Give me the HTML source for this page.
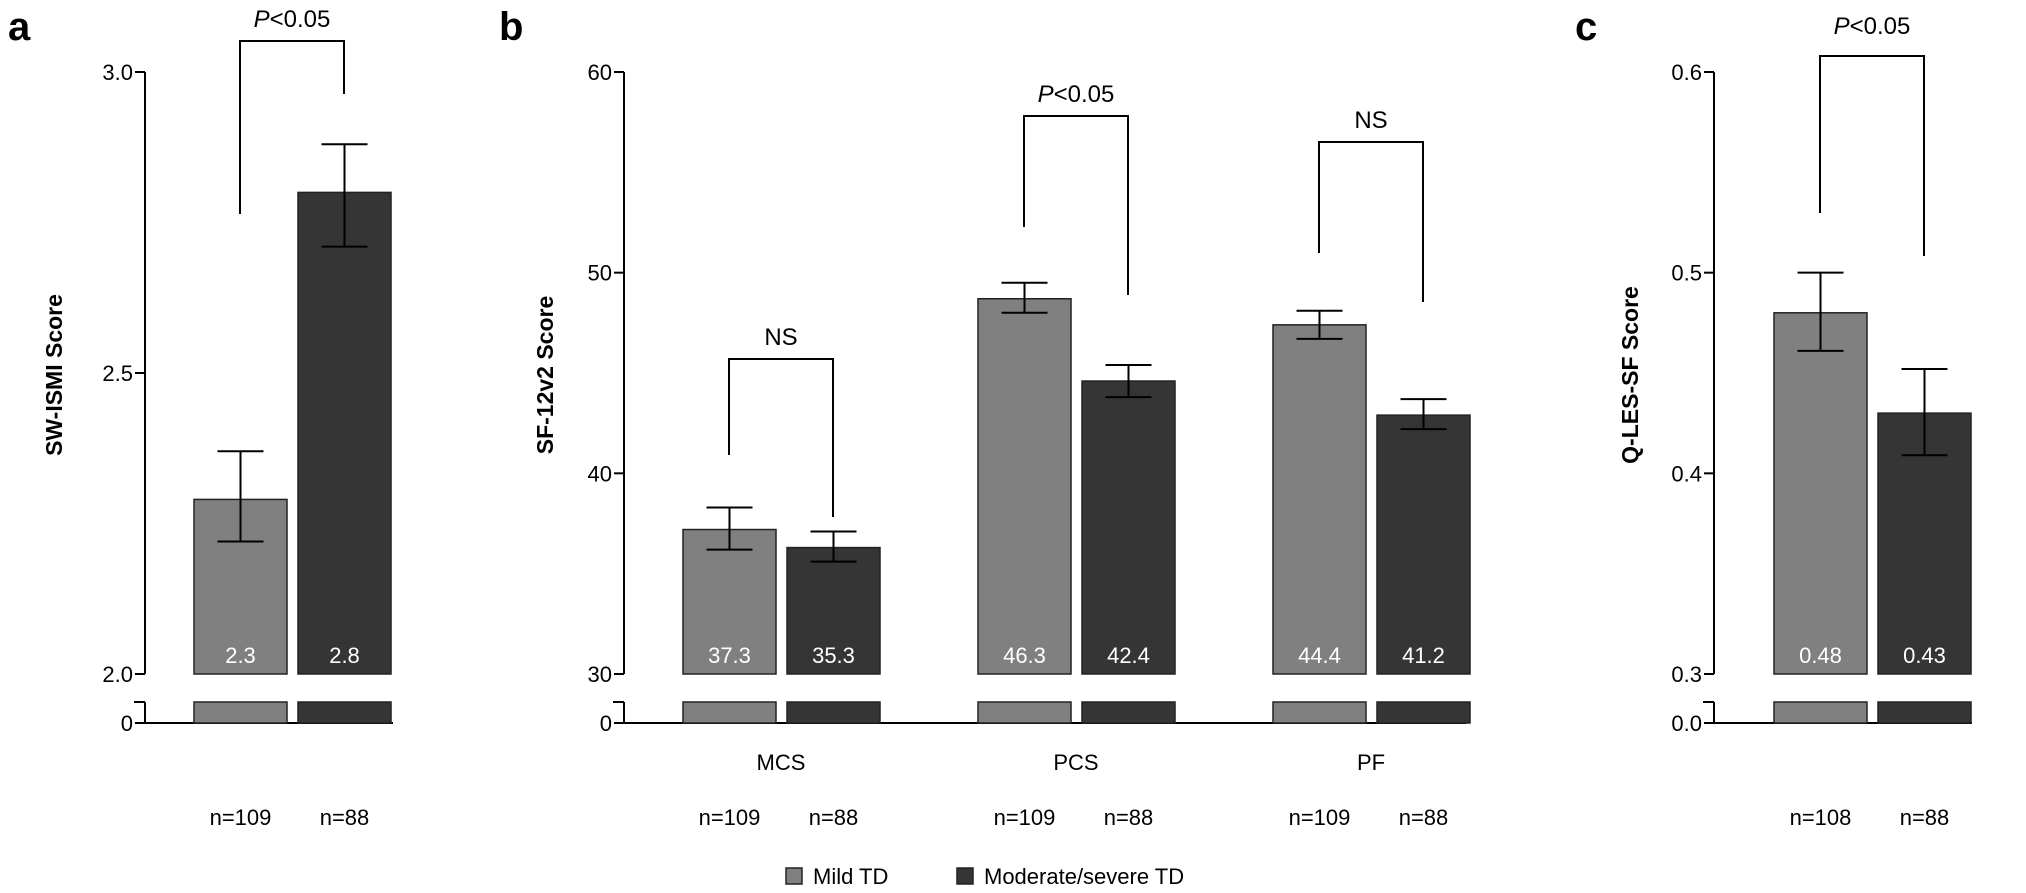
<!DOCTYPE html>
<html><head><meta charset="utf-8"><style>
body{margin:0;background:#fff;}
svg{display:block;font-family:"Liberation Sans",Arial,sans-serif;}
</style></head><body>
<svg id="c" width="2026" height="893" viewBox="0 0 2026 893" xmlns="http://www.w3.org/2000/svg"></svg>
<script>
// ---- data ----
const groups = ["Mild TD", "Moderate/severe TD"];
const colors = ["#808080", "#353535"];
// panel a
const aCats = [""];
const aMeans = [[2.29, 2.80]];
const aErrLo = [[2.22, 2.71]];
const aErrHi = [[2.37, 2.88]];
const aLabels = [["2.3", "2.8"]];
const aN = [["n=109", "n=88"]];
const aTicks = [2.0, 2.5, 3.0];
const aTickLabels = ["2.0", "2.5", "3.0"];
// panel b
const bCats = ["MCS", "PCS", "PF"];
const bMeans = [[37.2, 36.3], [48.7, 44.6], [47.4, 42.9]];
const bErrLo = [[36.2, 35.6], [48.0, 43.8], [46.7, 42.2]];
const bErrHi = [[38.3, 37.1], [49.5, 45.4], [48.1, 43.7]];
const bLabels = [["37.3", "35.3"], ["46.3", "42.4"], ["44.4", "41.2"]];
const bN = [["n=109", "n=88"], ["n=109", "n=88"], ["n=109", "n=88"]];
const bTicks = [30, 40, 50, 60];
const bTickLabels = ["30", "40", "50", "60"];
// panel c
const cCats = [""];
const cMeans = [[0.48, 0.43]];
const cErrLo = [[0.461, 0.409]];
const cErrHi = [[0.50, 0.452]];
const cLabels = [["0.48", "0.43"]];
const cN = [["n=108", "n=88"]];
const cTicks = [0.3, 0.4, 0.5, 0.6];
const cTickLabels = ["0.3", "0.4", "0.5", "0.6"];

const NS = "http://www.w3.org/2000/svg";
const svg = document.getElementById('c');
function el(tag, attrs, parent, text){
  const e = document.createElementNS(NS, tag);
  for (const k in attrs) e.setAttribute(k, attrs[k]);
  if (text !== undefined) e.textContent = text;
  (parent || svg).appendChild(e);
  return e;
}
const Y0 = 674, YTOP = 72, YZ = 723, YSTUB = 702;

function panel(cfg){
  const g = el('g', {});
  
  
  const vmin = cfg.ticks[0], vmax = cfg.ticks[cfg.ticks.length-1];
  const y = v => Y0 - (v - vmin) * (Y0 - YTOP) / (vmax - vmin);
  const ax = cfg.axisX;
  const L = el('text', {x: cfg.letterX, y: 40, 'font-size': 40, 'font-weight': 'bold'}, g, cfg.letter);
  
  
  const axis = el('g', {stroke: '#000', 'stroke-width': 2, fill: 'none'}, g);
  
  
  el('line', {x1: ax, y1: y(vmax), x2: ax, y2: Y0}, axis);
  el('line', {x1: ax - 11, y1: YSTUB, x2: ax, y2: YSTUB}, axis);
  el('line', {x1: ax, y1: YSTUB, x2: ax, y2: YZ}, axis);
  el('line', {x1: ax - 10, y1: YZ, x2: cfg.baseEnd, y2: YZ}, axis);
  cfg.ticks.forEach((t, i) => {
    el('line', {x1: ax - 10, y1: y(t), x2: ax, y2: y(t)}, axis);
    const tl = el('text', {x: ax - 12, y: y(t) + 8, 'font-size': 22, 'text-anchor': 'end'}, g, cfg.tickLabels[i]);
    
    
  });
  const zl = el('text', {x: ax - 12, y: YZ + 8, 'font-size': 22, 'text-anchor': 'end'}, g, cfg.zeroLabel);
  
  
  const yt = el('text', {x: 0, y: 0, 'font-size': 23, 'font-weight': 'bold', 'text-anchor': 'middle',
    transform: `translate(${cfg.titleX},375) rotate(-90)`}, g, cfg.title);
  
  
  cfg.cats.forEach((cat, ci) => {
    for (let gi = 0; gi < 2; gi++) {
      const x0 = cfg.barX[ci] + gi * 104, w = 93;
      const r = el('rect', {x: x0, y: y(cfg.means[ci][gi]), width: w, height: Y0 - y(cfg.means[ci][gi]),
        fill: colors[gi], stroke: '#222', 'stroke-width': 1.5}, g);
      
      
      const s = el('rect', {x: x0, y: YSTUB, width: w, height: YZ - YSTUB, fill: colors[gi], stroke: '#222', 'stroke-width': 1.5}, g);
      
      
      const cx = x0 + w / 2;
      const eb = el('g', {stroke: '#000', 'stroke-width': 2}, g);
      
      
      el('line', {x1: cx, y1: y(cfg.hi[ci][gi]), x2: cx, y2: y(cfg.lo[ci][gi])}, eb);
      el('line', {x1: cx - 23, y1: y(cfg.hi[ci][gi]), x2: cx + 23, y2: y(cfg.hi[ci][gi])}, eb);
      el('line', {x1: cx - 23, y1: y(cfg.lo[ci][gi]), x2: cx + 23, y2: y(cfg.lo[ci][gi])}, eb);
      const vl = el('text', {x: cx, y: 663, 'font-size': 22, fill: '#fff', 'text-anchor': 'middle'}, g, cfg.labels[ci][gi]);
      
      
      const nl = el('text', {x: cx, y: 825, 'font-size': 22, 'text-anchor': 'middle'}, g, cfg.n[ci][gi]);
      
      
    }
    if (cat) {
      const cl = el('text', {x: cfg.barX[ci] + 98, y: 770, 'font-size': 22, 'text-anchor': 'middle'}, g, cat);
      
      
    }
    const b = cfg.brackets[ci];
    const bx1 = cfg.barX[ci] + 46, bx2 = cfg.barX[ci] + 104 + 46;
    const br = el('polyline', {points: `${bx1},${b[1]} ${bx1},${b[0]} ${bx2},${b[0]} ${bx2},${b[2]}`, fill: 'none', stroke: '#000', 'stroke-width': 2}, g);
    
    
    const st = el('text', {x: (bx1 + bx2) / 2, y: b[0] - (b[4] || 14), 'font-size': 24, 'text-anchor': 'middle'}, g);
    
    
    if (b[3] === 'P') {
      el('tspan', {'font-style': 'italic'}, st, 'P');
      el('tspan', {}, st, '<0.05');
    } else st.textContent = 'NS';
  });
}

panel({name: 'panel-a', letter: 'a', letterX: 8, axisX: 145, baseEnd: 393, titleX: 62, title: 'SW-ISMI Score',
  ticks: aTicks, tickLabels: aTickLabels, zeroLabel: '0', cats: aCats, barX: [194],
  means: aMeans, lo: aErrLo, hi: aErrHi, labels: aLabels, n: aN, brackets: [[41, 214, 94, 'P']]});
panel({name: 'panel-b', letter: 'b', letterX: 499, axisX: 624, baseEnd: 1466, titleX: 553, title: 'SF-12v2 Score',
  ticks: bTicks, tickLabels: bTickLabels, zeroLabel: '0', cats: bCats, barX: [683, 978, 1273],
  means: bMeans, lo: bErrLo, hi: bErrHi, labels: bLabels, n: bN,
  brackets: [[359, 455, 517, 'NS'], [116, 227, 295, 'P'], [142, 253, 302, 'NS']]});
panel({name: 'panel-c', letter: 'c', letterX: 1575, axisX: 1714, baseEnd: 1972, titleX: 1638, title: 'Q-LES-SF Score',
  ticks: cTicks, tickLabels: cTickLabels, zeroLabel: '0.0', cats: cCats, barX: [1774],
  means: cMeans, lo: cErrLo, hi: cErrHi, labels: cLabels, n: cN, brackets: [[56, 213, 256, 'P', 22]]});

const lg = el('g', {});


const lx = [786, 957];
groups.forEach((name, i) => {
  const e = el('g', {}, lg);
  
  
  el('rect', {x: lx[i], y: 868, width: 16, height: 16, fill: colors[i], stroke: '#222', 'stroke-width': 1.5}, e);
  el('text', {x: lx[i] + 27, y: 884, 'font-size': 22}, e, name);
});
</script>
</body></html>
